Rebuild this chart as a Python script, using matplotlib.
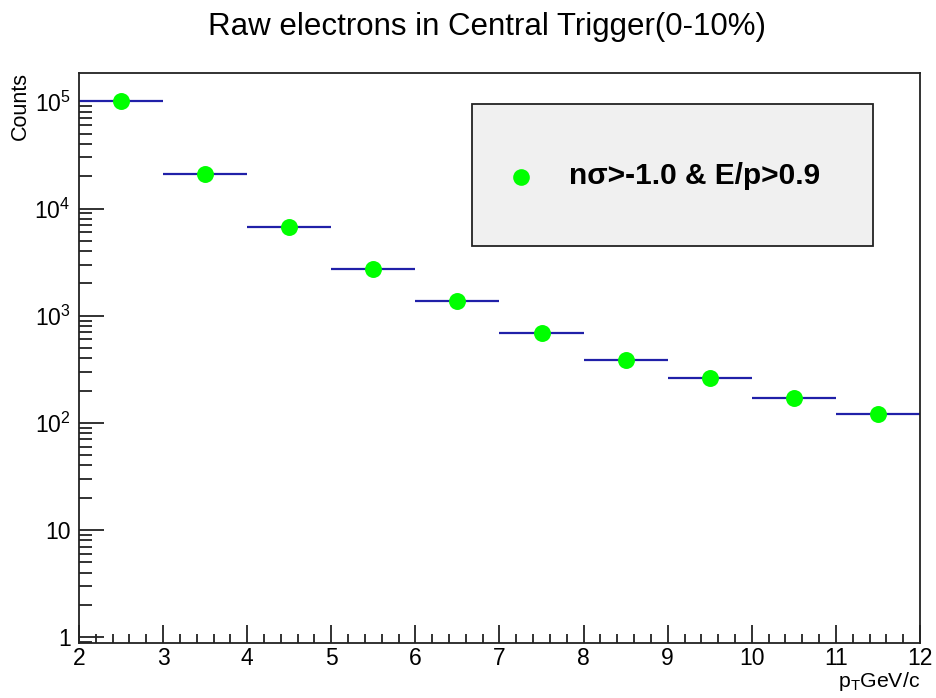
import matplotlib
matplotlib.use("Agg")
import matplotlib.pyplot as plt
from matplotlib.ticker import FixedLocator, FuncFormatter, LogLocator, MultipleLocator
from matplotlib.patches import Rectangle
import numpy as np

plt.rcParams['font.family'] = ['Liberation Sans', 'DejaVu Sans']
plt.rcParams['mathtext.fontset'] = 'custom'
plt.rcParams['mathtext.rm'] = 'Liberation Sans'
plt.rcParams['mathtext.it'] = 'Liberation Sans'

# data
pt_centers = [2.5, 3.5, 4.5, 5.5, 6.5, 7.5, 8.5, 9.5, 10.5, 11.5]
pt_halfwidth = [0.5] * 10
counts = [100000, 21000, 6700, 2730, 1370, 695, 386, 263, 171, 121]
title = "Raw electrons in Central Trigger(0-10%)"
legend_label = "n\u03c3>-1.0 & E/p>0.9"

W, H = 937, 698
fig = plt.figure(figsize=(W / 100, H / 100), dpi=100)
ax = fig.add_axes([79 / W, 1 - 643 / H, (920 - 79) / W, (643 - 73) / H])

ax.errorbar(pt_centers, counts, xerr=pt_halfwidth, fmt='none', ecolor='#2020a8',
            elinewidth=1.6, capsize=0, zorder=2)
ax.plot(pt_centers, counts, 'o', color='#00ff00', markersize=12.2, markeredgewidth=0,
        zorder=3)

ax.set_yscale('log')
ax.set_xlim(2, 12)
ax.set_ylim(0.88, 1.84e5)

ax.xaxis.set_major_locator(MultipleLocator(1))
ax.xaxis.set_minor_locator(MultipleLocator(0.2))
ax.yaxis.set_major_locator(FixedLocator([1, 10, 100, 1000, 1e4, 1e5]))
ax.yaxis.set_minor_locator(LogLocator(base=10, subs=np.arange(2, 10), numticks=20))

def yfmt(v, pos):
    e = int(round(np.log10(v)))
    if e == 0:
        return "1"
    if e == 1:
        return "10"
    return r"$\mathregular{10^{%d}}$" % e

ax.yaxis.set_major_formatter(FuncFormatter(yfmt))
ax.yaxis.set_minor_formatter(FuncFormatter(lambda v, p: ""))

ax.tick_params(axis='both', which='both', direction='in', colors='#222222',
               labelcolor='black', labelsize=16.5, top=False, right=False)
ax.tick_params(axis='y', which='major', length=18, width=1.3, pad=6)
ax.tick_params(axis='y', which='minor', length=9, width=1.3)
ax.tick_params(axis='x', which='major', length=13, width=1.3, pad=3)
ax.tick_params(axis='x', which='minor', length=6.5, width=1.3)
for s in ax.spines.values():
    s.set_linewidth(1.3)
    s.set_color('#222222')

fig.text(487 / W, 1 - 35 / H, title, ha='center', va='baseline', fontsize=22.5)
fig.text(20 / W, 1 - 72 / H, "Counts", rotation=90, ha='center', va='top', fontsize=15.5)
fig.text(920 / W, 1 - 687 / H, r"p$_\mathregular{T}$GeV/c", ha='right', va='baseline',
         fontsize=15.3)

# legend box
lx0, ly0, lx1, ly1 = 472, 104, 873, 246
fig.patches.append(Rectangle((lx0 / W, 1 - ly1 / H), (lx1 - lx0) / W, (ly1 - ly0) / H,
                             transform=fig.transFigure, facecolor='#f0f0f0',
                             edgecolor='#222222', linewidth=1.3, zorder=5))
fig.lines.append(plt.Line2D([521 / W], [1 - 177 / H], marker='o', color='#00ff00',
                            markersize=12, markeredgewidth=0, transform=fig.transFigure,
                            zorder=6))
fig.text(569 / W, 1 - 176 / H, legend_label, ha='left', va='center', fontsize=21.5,
         fontweight='bold', zorder=7)

fig.savefig("out.png", dpi=100)
